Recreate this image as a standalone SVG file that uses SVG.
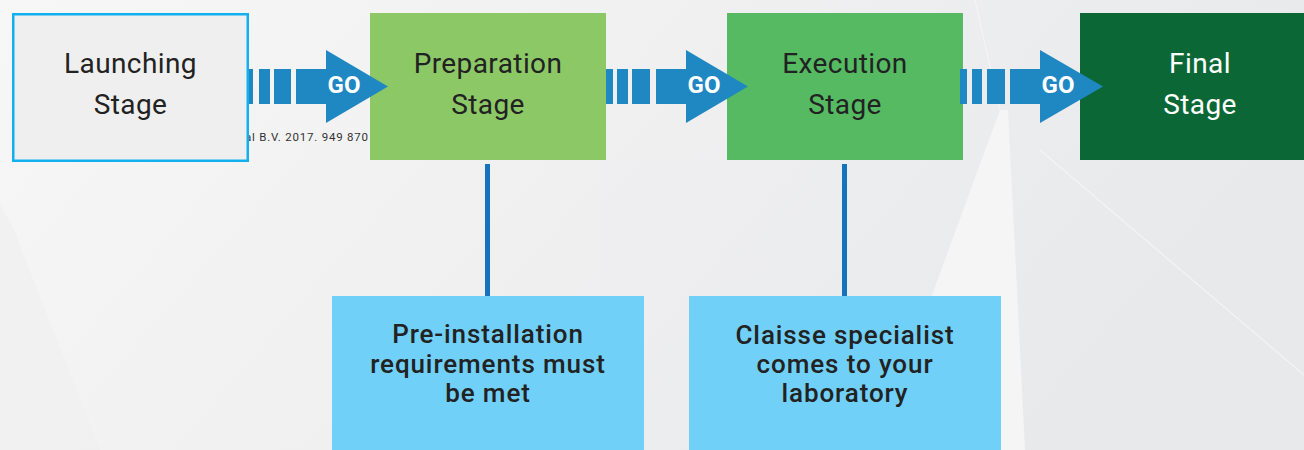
<svg xmlns="http://www.w3.org/2000/svg" width="1304" height="450" viewBox="0 0 1304 450">
<defs>
<linearGradient id="bg" x1="0" y1="0" x2="1" y2="0.3">
<stop offset="0" stop-color="#f7f7f7"/>
<stop offset="0.5" stop-color="#f0f0f1"/>
<stop offset="1" stop-color="#e8e9eb"/>
</linearGradient>
<style>
.stage{font-family:Roboto,"Liberation Sans",sans-serif;font-size:28px;letter-spacing:0.4px;text-anchor:middle;fill:#222}
.note{font-family:Roboto,"Liberation Sans",sans-serif;font-size:26px;font-weight:500;letter-spacing:0.9px;text-anchor:middle;fill:#222}
.go{font-family:Roboto,"Liberation Sans",sans-serif;font-size:24px;font-weight:700;text-anchor:middle;fill:#fff}
.arrow{fill:#1f88c2}
.link{stroke:#1473bd;stroke-width:5;fill:none}
</style>
</defs>
<g id="background">
<rect x="0" y="0" width="1304" height="450" fill="url(#bg)"/>
<polygon points="0,205 12,225 100,450 0,450" fill="#efeff0" opacity="0.7"/>
<polygon points="1000,110 1008,110 1025,450 875,450" fill="#f5f5f6"/>
<polygon points="600,160 790,160 730,300 600,300" fill="#eeeeef" opacity="0.4"/>
<line x1="1040" y1="150" x2="1304" y2="375" stroke="#f4f4f5" stroke-width="1.2"/>
<line x1="975" y1="0" x2="1000" y2="110" stroke="#f4f4f5" stroke-width="1.2"/>
<text x="245" y="141" font-family="Roboto,'Liberation Sans',sans-serif" font-size="11.5" fill="#333" textLength="123" lengthAdjust="spacing">al B.V. 2017. 949 870</text>
</g>
<g id="node-launching">
<rect x="13.25" y="14.25" width="234.5" height="146.5" fill="#efefef" stroke="#12b0ef" stroke-width="2.5"/>
<text class="stage" x="130.5" y="73">Launching</text>
<text class="stage" x="130.5" y="114">Stage</text>
</g>
<g id="node-preparation">
<rect x="370" y="13" width="236" height="147" fill="#8dc867"/>
<text class="stage" x="488" y="73">Preparation</text>
<text class="stage" x="488" y="114">Stage</text>
</g>
<g id="node-execution">
<rect x="727" y="13" width="236" height="147" fill="#55ba62"/>
<text class="stage" x="845" y="73">Execution</text>
<text class="stage" x="845" y="114">Stage</text>
</g>
<g id="node-final">
<rect x="1080" y="13" width="224" height="147" fill="#0b6836"/>
<text class="stage" x="1200" y="73" style="fill:#fff">Final</text>
<text class="stage" x="1200" y="114" style="fill:#fff">Stage</text>
</g>
<g id="node-preinstall">
<rect x="332" y="296" width="312" height="154" fill="#70d0f7"/>
<text class="note" x="488" y="343">Pre-installation</text>
<text class="note" x="488" y="372.5">requirements must</text>
<text class="note" x="488" y="402">be met</text>
</g>
<g id="node-specialist">
<rect x="689" y="296" width="312" height="154" fill="#70d0f7"/>
<text class="note" x="845" y="343.5">Claisse specialist</text>
<text class="note" x="845" y="372.5">comes to your</text>
<text class="note" x="845" y="402">laboratory</text>
</g>
<g id="connectors">
<g transform="translate(388,0)">
<rect class="arrow" x="-139" y="69" width="4" height="35"/>
<rect class="arrow" x="-129" y="69" width="11" height="35"/>
<rect class="arrow" x="-114" y="69" width="17" height="35"/>
<polygon class="arrow" points="-92,69 -62,69 -62,50 0,86.5 -62,123 -62,104 -92,104"/>
<text class="go" x="-44" y="93">GO</text>
</g>
<g transform="translate(748,0)">
<rect class="arrow" x="-142" y="69" width="7" height="35"/>
<rect class="arrow" x="-131" y="69" width="11" height="35"/>
<rect class="arrow" x="-116" y="69" width="18" height="35"/>
<polygon class="arrow" points="-92,69 -62,69 -62,50 0,86.5 -62,123 -62,104 -92,104"/>
<text class="go" x="-44" y="93">GO</text>
</g>
<g transform="translate(1103,0)">
<rect class="arrow" x="-143" y="69" width="7" height="35"/>
<rect class="arrow" x="-131" y="69" width="10" height="35"/>
<rect class="arrow" x="-116" y="69" width="18" height="35"/>
<polygon class="arrow" points="-93,69 -63,69 -63,50 0,86.5 -63,123 -63,104 -93,104"/>
<text class="go" x="-45" y="93">GO</text>
</g>
<line class="link" x1="487.5" y1="164" x2="487.5" y2="296"/>
<line class="link" x1="844.5" y1="164" x2="844.5" y2="296"/>
</g>
</svg>
